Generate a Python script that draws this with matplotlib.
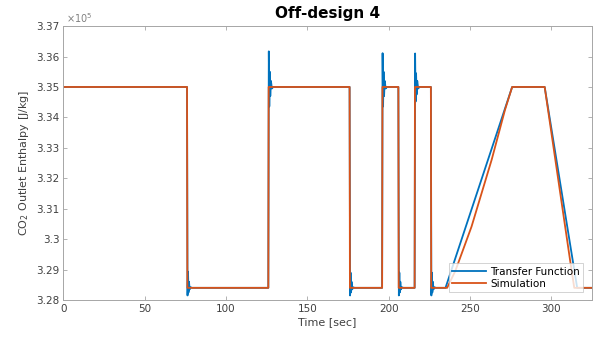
import numpy as np
import matplotlib
matplotlib.use('Agg')
import matplotlib.pyplot as plt
from matplotlib.ticker import FuncFormatter, MultipleLocator

# Simulation trace [time s, enthalpy J/kg]
sim_t = [0, 76, 76.2, 126, 126.2, 176, 176.2, 196, 196.2, 206, 206.2, 216, 216.2,
         226, 226.2, 236, 241, 251, 263.4, 271.6, 276, 296, 311.6, 314.2, 325]
sim_h = [335000, 335000, 328400, 328400, 335000, 335000, 328400, 328400, 335000,
         335000, 328400, 328400, 335000, 335000, 328400, 328400, 328950, 330410,
         332610, 334250, 335000, 335000, 329320, 328400, 328400]

# Transfer function trace (rings at each step)
tf_t = [0, 76, 76.3, 76.6, 76.9, 77.2, 77.6, 78.2, 79,
        126, 126.3, 126.6, 126.9, 127.2, 127.6, 128.2, 129,
        176, 176.3, 176.6, 176.9, 177.2, 177.6, 178.2, 179,
        196, 196.3, 196.6, 196.9, 197.2, 197.6, 198.2, 199,
        206, 206.3, 206.6, 206.9, 207.2, 207.6, 208.2, 209,
        216, 216.3, 216.6, 216.9, 217.2, 217.6, 218.2, 219,
        226, 226.3, 226.6, 226.9, 227.2, 227.6, 228.2, 229,
        235, 276, 296, 313.2, 316, 325]
tf_h = [335000, 335000, 328150, 328930, 328250, 328600, 328350, 328420, 328400,
        328400, 336170, 334360, 335500, 334700, 335200, 334950, 335000,
        335000, 328150, 328900, 328250, 328600, 328350, 328420, 328400,
        328400, 336110, 334360, 335500, 334700, 335200, 334950, 335000,
        335000, 328150, 328900, 328250, 328600, 328350, 328420, 328400,
        328400, 336100, 334520, 335450, 334750, 335200, 334950, 335000,
        335000, 328150, 328900, 328250, 328600, 328350, 328420, 328400,
        328400, 335000, 335000, 329320, 328400, 328400]

blue = '#0072BD'
orange = '#D95319'
grey = '#a6a6a6'
txt = '#404040'

fig = plt.figure(figsize=(5.99, 3.39), dpi=100)
ax = fig.add_axes([0.106, 0.115, 0.882, 0.808])

ax.plot(tf_t, tf_h, color=blue, lw=1.3, label='Transfer Function')
ax.plot(sim_t, sim_h, color=orange, lw=1.3, label='Simulation')

ax.set_xlim(0, 325)
ax.set_ylim(328000, 337000)
ax.xaxis.set_major_locator(MultipleLocator(50))
ax.yaxis.set_major_locator(MultipleLocator(1000))
ax.yaxis.set_major_formatter(FuncFormatter(lambda v, p: f'{v/1e5:g}'))

ax.tick_params(direction='in', top=True, right=True, length=3, width=0.6,
               color=grey, labelcolor=txt, labelsize=7.5, pad=3)
for s in ax.spines.values():
    s.set_color(grey)
    s.set_linewidth(0.7)

ax.text(0.005, 1.005, r'$\times10^{5}$', transform=ax.transAxes, fontsize=7,
        color='#808080', va='bottom', ha='left')

ax.set_title('Off-design 4', fontsize=11, fontweight='bold', pad=6)
ax.set_xlabel('Time [sec]', fontsize=8, color=txt, labelpad=2)
ax.set_ylabel('CO$_2$ Outlet Enthalpy [J/kg]', fontsize=8, color=txt, labelpad=4)

leg = ax.legend(loc='lower right', bbox_to_anchor=(0.983, 0.03), borderaxespad=0,
                fontsize=7.5, frameon=True, fancybox=False, handlelength=3.2,
                handletextpad=0.4, borderpad=0.3, labelspacing=0.2)
leg.get_frame().set_edgecolor('#bfbfbf')
leg.get_frame().set_linewidth(0.6)

fig.savefig('out.png', dpi=100)
